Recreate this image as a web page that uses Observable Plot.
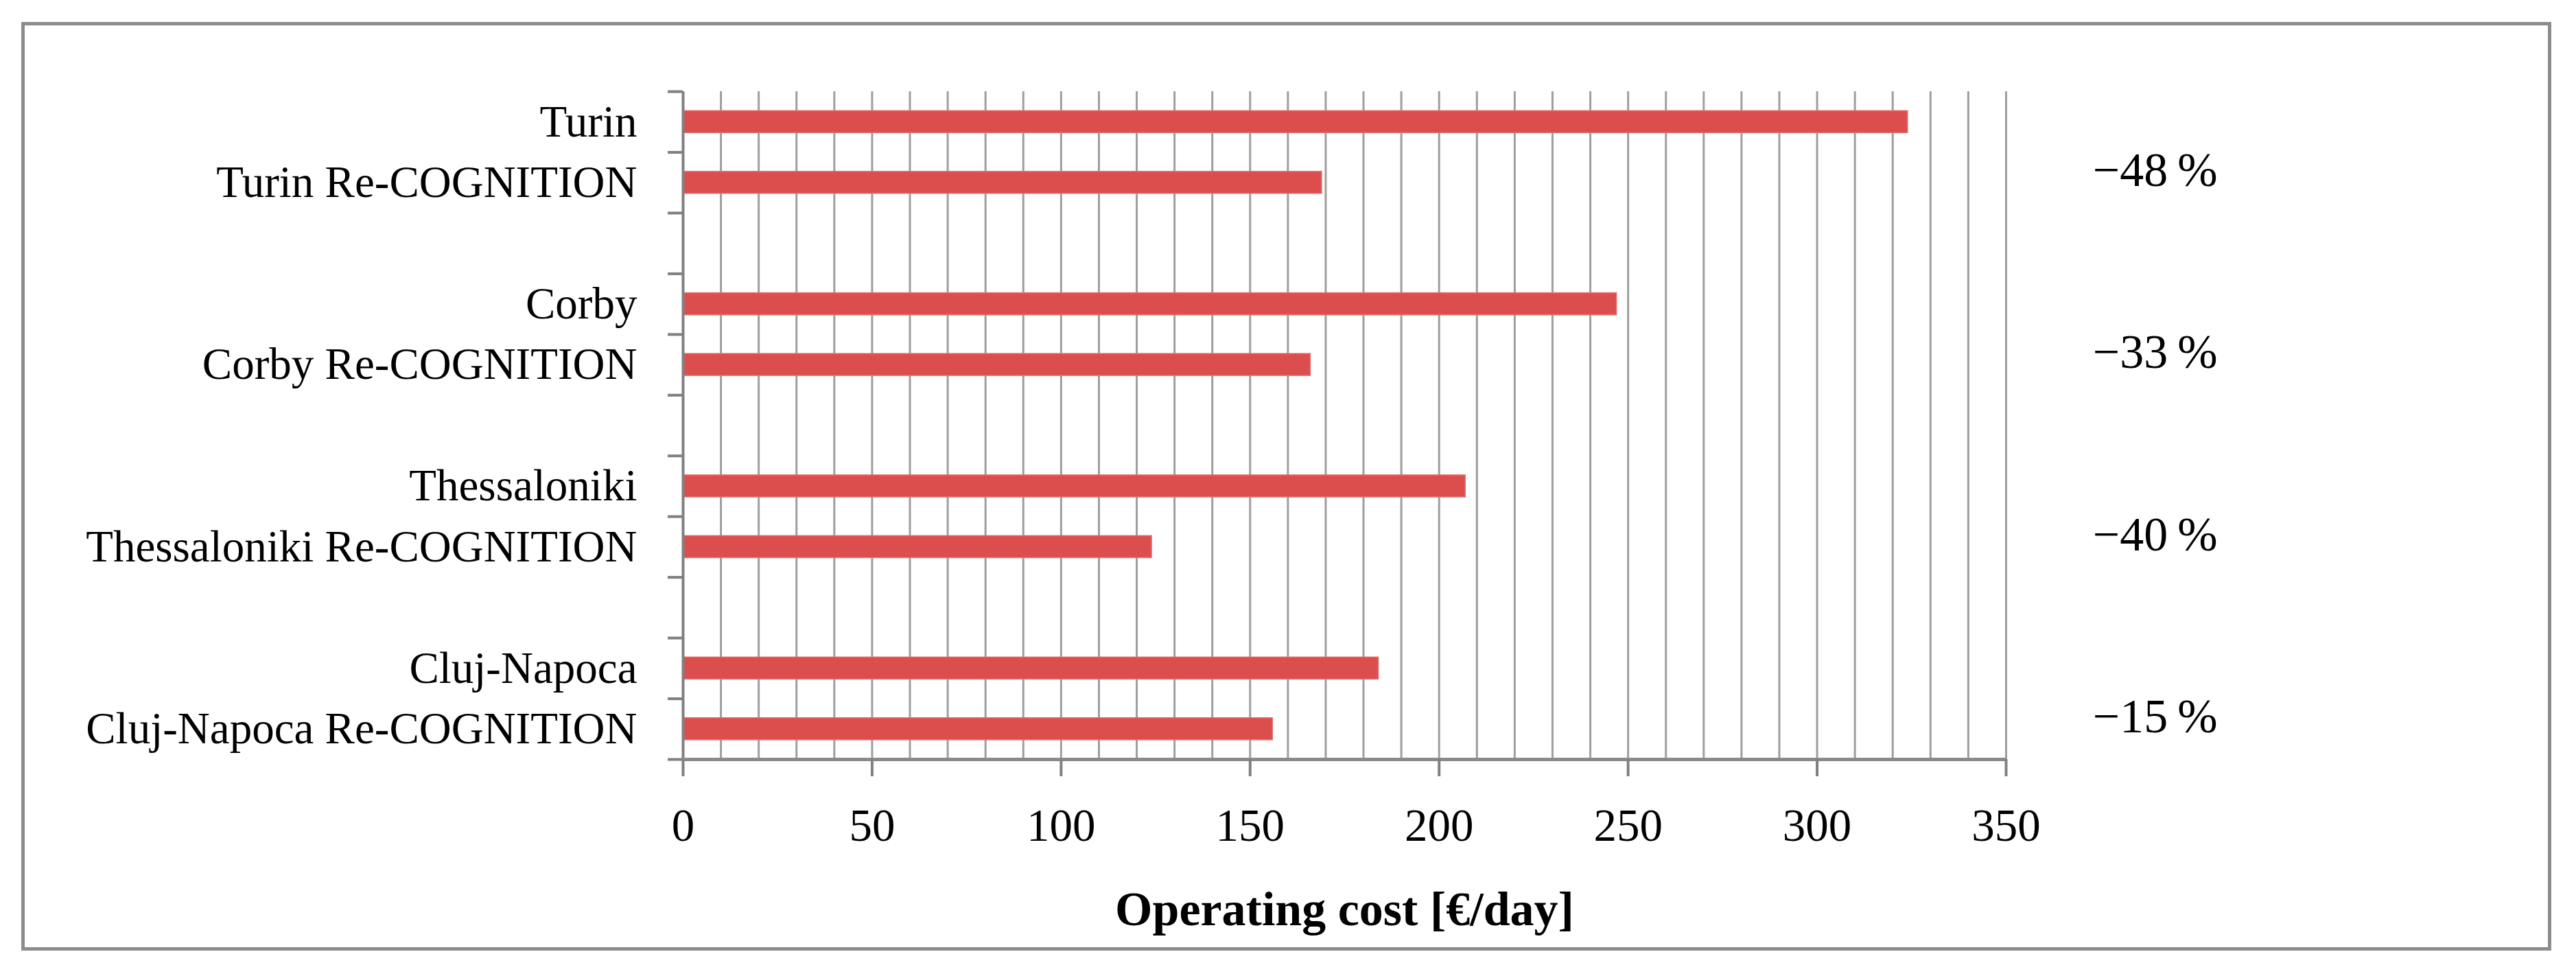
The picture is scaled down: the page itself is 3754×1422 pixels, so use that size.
<!DOCTYPE html>
<html>
<head>
<meta charset="utf-8">
<script src="https://cdn.jsdelivr.net/npm/d3@7"></script>
<script src="https://cdn.jsdelivr.net/npm/@observablehq/plot@0.6"></script>
<style>
  html, body { margin: 0; padding: 0; background: #fff; }
  #wrap { position: relative; width: 3754px; height: 1422px; overflow: hidden; }
  #frame { position: absolute; left: 31px; top: 32px; width: 3687px; height: 1353px;
           box-sizing: border-box; border: 5px solid #8c8c8c; pointer-events: none; }
  #chart { position: absolute; left: 0; top: 0; }
</style>
</head>
<body>
<div id="wrap"><div id="chart"></div><div id="frame"></div></div>
<script>
// ---- data ----
const cities = ["Turin", "Corby", "Thessaloniki", "Cluj-Napoca"];
const baselineCost = [324, 247, 207, 184];      // €/day
const recognitionCost = [169, 166, 124, 156];   // €/day, Re-COGNITION
const reductionPct = [-48, -33, -40, -15];       // % change label
const xTicks = [0, 50, 100, 150, 200, 250, 300, 350];
const axisTitle = "Operating cost [€/day]";
const suffix = " Re-COGNITION";

// ---- build rows (city, city Re-COGNITION, blank spacer) ----
const rowLabels = [];
const bars = [];
cities.forEach((c, i) => {
  if (i > 0) rowLabels.push("");
  bars.push({row: rowLabels.length, value: baselineCost[i]});
  rowLabels.push(c);
  bars.push({row: rowLabels.length, value: recognitionCost[i]});
  rowLabels.push(c + suffix);
});
const nRows = rowLabels.length; // 11
const pct = cities.map((c, i) => ({
  row: bars[2 * i].row + 1,
  label: "\u2212" + Math.abs(reductionPct[i]) + "\u2009%"
}));

const half = 0.181;
const grey = "#808080";

const chart = Plot.plot({
  width: 3754,
  height: 1422,
  marginLeft: 995,
  marginRight: 831,
  marginTop: 133,
  marginBottom: 316,
  style: {fontFamily: "'Liberation Serif', 'Times New Roman', serif", background: "transparent", color: "#000"},
  x: {domain: [0, 350], label: null},
  y: {domain: [0, nRows], reverse: true, label: null},
  marks: [
    Plot.ruleX(d3.range(10, 351, 10), {stroke: "#9e9e9e", strokeWidth: 3}),
    Plot.rect(bars, {
      x1: d => 0, x2: d => d.value,
      y1: d => d.row + 0.5 - half, y2: d => d.row + 0.5 + half,
      fill: "#dc4e4e", stroke: "#e07070", strokeWidth: 1.5
    }),
    Plot.ruleX([0], {stroke: grey, strokeWidth: 4}),
    Plot.ruleY([nRows], {stroke: "#8a8a8a", strokeWidth: 5}),
    Plot.axisY({ticks: d3.range(0, nRows + 1), tickSize: 22, tickFormat: () => "",
      stroke: grey, strokeWidth: 4, label: null}),
    Plot.axisY({ticks: rowLabels.map((_, i) => i + 0.5), tickSize: 0, tickPadding: 67,
      tickFormat: v => rowLabels[Math.floor(v)], fontSize: 65, label: null}),
    Plot.axisX({ticks: xTicks, tickSize: 25, tickPadding: 46, fontSize: 67,
      stroke: grey, strokeWidth: 4, tickFormat: d => String(d), label: null}),
    Plot.text([axisTitle], {text: d => d, frameAnchor: "bottom", dy: 241,
      fontSize: 70, fontWeight: "bold"}),
    Plot.text(pct, {y: d => d.row + 0.3, text: "label", frameAnchor: "right",
      textAnchor: "end", dx: 308, fontSize: 70})
  ]
});
document.getElementById("chart").appendChild(chart);
</script>
</body>
</html>
